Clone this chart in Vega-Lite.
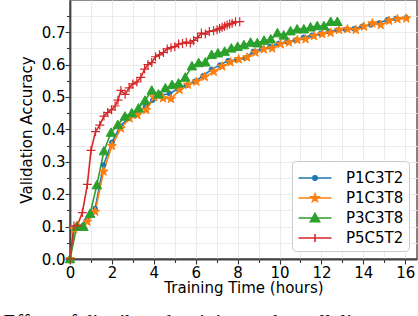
{
  "$schema": "https://vega.github.io/schema/vega-lite/v6.json",
  "width": 347,
  "height": 259,
  "autosize": {"type": "none"},
  "padding": {"left": 70, "top": 0, "right": 1, "bottom": 57},
  "config": {
    "view": {"stroke": "#666", "strokeWidth": 1.6},
    "font": "DejaVu Sans",
    "axis": {
      "gridColor": "#ebebeb", "gridWidth": 1, "tickColor": "#333", "tickWidth": 1.1,
      "domainColor": "#444", "domainWidth": 1.8,
      "labelFont": "DejaVu Sans", "labelFontSize": 15, "labelColor": "black",
      "titleFont": "DejaVu Sans", "titleFontSize": 15, "titleFontWeight": "normal", "titleColor": "black"
    }
  },
  "title": {
    "text": "Effect of distributed training and parallelism",
    "orient": "bottom", "anchor": "start", "frame": "bounds",
    "font": "Liberation Serif", "fontSize": 21, "fontWeight": "normal", "color": "black",
    "offset": 15, "dx": -16, "dy": 2
  },
  "data": {"values": [
    {"s":"P1C3T2","h":0,"a":0},{"s":"P1C3T2","h":0.2,"a":0.095},{"s":"P1C3T2","h":0.42,"a":0.1},{"s":"P1C3T2","h":0.8,"a":0.12},{"s":"P1C3T2","h":1.2,"a":0.156},{"s":"P1C3T2","h":1.6,"a":0.29},{"s":"P1C3T2","h":2.0,"a":0.36},{"s":"P1C3T2","h":2.4,"a":0.41},{"s":"P1C3T2","h":2.8,"a":0.435},{"s":"P1C3T2","h":3.2,"a":0.45},{"s":"P1C3T2","h":3.6,"a":0.47},{"s":"P1C3T2","h":3.95,"a":0.49},{"s":"P1C3T2","h":4.35,"a":0.505},{"s":"P1C3T2","h":4.75,"a":0.51},{"s":"P1C3T2","h":5.15,"a":0.525},{"s":"P1C3T2","h":5.55,"a":0.535},{"s":"P1C3T2","h":5.95,"a":0.548},{"s":"P1C3T2","h":6.35,"a":0.565},{"s":"P1C3T2","h":6.75,"a":0.585},{"s":"P1C3T2","h":7.15,"a":0.598},{"s":"P1C3T2","h":7.55,"a":0.612},{"s":"P1C3T2","h":7.95,"a":0.614},{"s":"P1C3T2","h":8.35,"a":0.62},{"s":"P1C3T2","h":8.75,"a":0.64},{"s":"P1C3T2","h":9.15,"a":0.648},{"s":"P1C3T2","h":9.55,"a":0.655},{"s":"P1C3T2","h":9.95,"a":0.665},{"s":"P1C3T2","h":10.35,"a":0.67},{"s":"P1C3T2","h":10.75,"a":0.675},{"s":"P1C3T2","h":11.15,"a":0.684},{"s":"P1C3T2","h":11.55,"a":0.69},{"s":"P1C3T2","h":11.95,"a":0.695},{"s":"P1C3T2","h":12.35,"a":0.702},{"s":"P1C3T2","h":12.75,"a":0.706},{"s":"P1C3T2","h":13.15,"a":0.708},{"s":"P1C3T2","h":13.55,"a":0.71},{"s":"P1C3T2","h":13.95,"a":0.718},{"s":"P1C3T2","h":14.35,"a":0.722},{"s":"P1C3T2","h":14.75,"a":0.728},{"s":"P1C3T2","h":15.15,"a":0.738},{"s":"P1C3T2","h":15.55,"a":0.742},{"s":"P1C3T2","h":16.05,"a":0.745},
    {"s":"P1C3T8","h":0,"a":0},{"s":"P1C3T8","h":0.2,"a":0.092},{"s":"P1C3T8","h":0.4,"a":0.1},{"s":"P1C3T8","h":0.83,"a":0.115},{"s":"P1C3T8","h":1.2,"a":0.146},{"s":"P1C3T8","h":1.6,"a":0.27},{"s":"P1C3T8","h":2.0,"a":0.349},{"s":"P1C3T8","h":2.43,"a":0.403},{"s":"P1C3T8","h":2.84,"a":0.434},{"s":"P1C3T8","h":3.22,"a":0.444},{"s":"P1C3T8","h":3.64,"a":0.46},{"s":"P1C3T8","h":4.02,"a":0.499},{"s":"P1C3T8","h":4.44,"a":0.496},{"s":"P1C3T8","h":4.82,"a":0.494},{"s":"P1C3T8","h":5.23,"a":0.522},{"s":"P1C3T8","h":5.63,"a":0.538},{"s":"P1C3T8","h":6.03,"a":0.547},{"s":"P1C3T8","h":6.43,"a":0.562},{"s":"P1C3T8","h":6.86,"a":0.578},{"s":"P1C3T8","h":7.26,"a":0.594},{"s":"P1C3T8","h":7.66,"a":0.607},{"s":"P1C3T8","h":8.05,"a":0.616},{"s":"P1C3T8","h":8.45,"a":0.622},{"s":"P1C3T8","h":8.85,"a":0.637},{"s":"P1C3T8","h":9.25,"a":0.647},{"s":"P1C3T8","h":9.65,"a":0.65},{"s":"P1C3T8","h":10.05,"a":0.663},{"s":"P1C3T8","h":10.45,"a":0.668},{"s":"P1C3T8","h":10.85,"a":0.676},{"s":"P1C3T8","h":11.24,"a":0.678},{"s":"P1C3T8","h":11.64,"a":0.688},{"s":"P1C3T8","h":12.04,"a":0.694},{"s":"P1C3T8","h":12.44,"a":0.698},{"s":"P1C3T8","h":12.84,"a":0.707},{"s":"P1C3T8","h":13.24,"a":0.709},{"s":"P1C3T8","h":13.64,"a":0.707},{"s":"P1C3T8","h":14.03,"a":0.717},{"s":"P1C3T8","h":14.43,"a":0.727},{"s":"P1C3T8","h":14.83,"a":0.722},{"s":"P1C3T8","h":15.23,"a":0.735},{"s":"P1C3T8","h":15.63,"a":0.74},{"s":"P1C3T8","h":16.05,"a":0.742},
    {"s":"P3C3T8","h":0,"a":0},{"s":"P3C3T8","h":0.32,"a":0.1},{"s":"P3C3T8","h":0.64,"a":0.1},{"s":"P3C3T8","h":0.96,"a":0.14},{"s":"P3C3T8","h":1.28,"a":0.228},{"s":"P3C3T8","h":1.62,"a":0.333},{"s":"P3C3T8","h":1.96,"a":0.39},{"s":"P3C3T8","h":2.28,"a":0.414},{"s":"P3C3T8","h":2.62,"a":0.44},{"s":"P3C3T8","h":2.95,"a":0.45},{"s":"P3C3T8","h":3.27,"a":0.465},{"s":"P3C3T8","h":3.58,"a":0.489},{"s":"P3C3T8","h":3.9,"a":0.52},{"s":"P3C3T8","h":4.22,"a":0.508},{"s":"P3C3T8","h":4.55,"a":0.527},{"s":"P3C3T8","h":4.87,"a":0.537},{"s":"P3C3T8","h":5.18,"a":0.542},{"s":"P3C3T8","h":5.5,"a":0.56},{"s":"P3C3T8","h":5.82,"a":0.595},{"s":"P3C3T8","h":6.14,"a":0.605},{"s":"P3C3T8","h":6.46,"a":0.607},{"s":"P3C3T8","h":6.76,"a":0.63},{"s":"P3C3T8","h":7.06,"a":0.635},{"s":"P3C3T8","h":7.38,"a":0.64},{"s":"P3C3T8","h":7.7,"a":0.65},{"s":"P3C3T8","h":8.0,"a":0.655},{"s":"P3C3T8","h":8.3,"a":0.66},{"s":"P3C3T8","h":8.62,"a":0.668},{"s":"P3C3T8","h":8.94,"a":0.666},{"s":"P3C3T8","h":9.26,"a":0.674},{"s":"P3C3T8","h":9.58,"a":0.678},{"s":"P3C3T8","h":9.9,"a":0.697},{"s":"P3C3T8","h":10.2,"a":0.69},{"s":"P3C3T8","h":10.52,"a":0.703},{"s":"P3C3T8","h":10.84,"a":0.709},{"s":"P3C3T8","h":11.16,"a":0.709},{"s":"P3C3T8","h":11.48,"a":0.715},{"s":"P3C3T8","h":11.8,"a":0.719},{"s":"P3C3T8","h":12.12,"a":0.719},{"s":"P3C3T8","h":12.44,"a":0.732},{"s":"P3C3T8","h":12.76,"a":0.732},
    {"s":"P5C5T2","h":0,"a":0},{"s":"P5C5T2","h":0.19,"a":0.102},{"s":"P5C5T2","h":0.35,"a":0.103},{"s":"P5C5T2","h":0.59,"a":0.143},{"s":"P5C5T2","h":0.83,"a":0.23},{"s":"P5C5T2","h":1.0,"a":0.335},{"s":"P5C5T2","h":1.22,"a":0.393},{"s":"P5C5T2","h":1.42,"a":0.413},{"s":"P5C5T2","h":1.62,"a":0.441},{"s":"P5C5T2","h":1.8,"a":0.452},{"s":"P5C5T2","h":1.98,"a":0.46},{"s":"P5C5T2","h":2.15,"a":0.472},{"s":"P5C5T2","h":2.29,"a":0.49},{"s":"P5C5T2","h":2.43,"a":0.52},{"s":"P5C5T2","h":2.63,"a":0.508},{"s":"P5C5T2","h":2.82,"a":0.528},{"s":"P5C5T2","h":3.0,"a":0.54},{"s":"P5C5T2","h":3.19,"a":0.546},{"s":"P5C5T2","h":3.38,"a":0.56},{"s":"P5C5T2","h":3.56,"a":0.586},{"s":"P5C5T2","h":3.72,"a":0.6},{"s":"P5C5T2","h":3.9,"a":0.606},{"s":"P5C5T2","h":4.08,"a":0.624},{"s":"P5C5T2","h":4.27,"a":0.63},{"s":"P5C5T2","h":4.46,"a":0.637},{"s":"P5C5T2","h":4.64,"a":0.648},{"s":"P5C5T2","h":4.82,"a":0.652},{"s":"P5C5T2","h":5.0,"a":0.655},{"s":"P5C5T2","h":5.18,"a":0.663},{"s":"P5C5T2","h":5.37,"a":0.665},{"s":"P5C5T2","h":5.55,"a":0.669},{"s":"P5C5T2","h":5.74,"a":0.666},{"s":"P5C5T2","h":5.9,"a":0.674},{"s":"P5C5T2","h":6.09,"a":0.683},{"s":"P5C5T2","h":6.27,"a":0.697},{"s":"P5C5T2","h":6.46,"a":0.694},{"s":"P5C5T2","h":6.65,"a":0.702},{"s":"P5C5T2","h":6.85,"a":0.704},{"s":"P5C5T2","h":7.02,"a":0.707},{"s":"P5C5T2","h":7.14,"a":0.711},{"s":"P5C5T2","h":7.26,"a":0.715},{"s":"P5C5T2","h":7.38,"a":0.718},{"s":"P5C5T2","h":7.5,"a":0.722},{"s":"P5C5T2","h":7.62,"a":0.725},{"s":"P5C5T2","h":7.74,"a":0.727},{"s":"P5C5T2","h":7.9,"a":0.732},{"s":"P5C5T2","h":8.1,"a":0.732}
  ]},
  "encoding": {
    "x": {"field": "h", "type": "quantitative", "title": "Training Time (hours)",
      "scale": {"domain": [0, 16.56], "nice": false, "zero": false},
      "axis": {"values": [0,1,2,3,4,5,6,7,8,9,10,11,12,13,14,15,16], "format": "d",
        "labelExpr": "datum.value % 2 === 0 ? datum.label : ''",
        "tickSize": {"condition": {"test": "datum.value % 2 === 0", "value": 5}, "value": 3.5},
        "labelPadding": 1, "titlePadding": 0, "labelFlush": false, "labelOverlap": false}},
    "y": {"field": "a", "type": "quantitative", "title": "Validation Accuracy",
      "scale": {"domain": [0, 0.799], "nice": false},
      "axis": {"values": [0,0.05,0.1,0.15,0.2,0.25,0.3,0.35,0.4,0.45,0.5,0.55,0.6,0.65,0.7,0.75],
        "labelExpr": "round(datum.value*100) % 10 === 0 ? format(datum.value, '.1f') : ''",
        "tickSize": {"condition": {"test": "round(datum.value*100) % 10 === 0", "value": 5}, "value": 3.5},
        "labelPadding": 0, "titlePadding": 7, "labelFlush": false, "labelOverlap": false}}
  },
  "layer": [
    {
      "mark": {"type": "line", "strokeWidth": 1.6},
      "encoding": {
        "color": {"field": "s", "type": "nominal",
          "scale": {"domain": ["P1C3T2","P1C3T8","P3C3T8","P5C5T2"], "range": ["#1f77b4","#ff7f0e","#2ca02c","#d62728"]},
          "legend": {"title": null, "orient": "bottom-right", "offset": 8, "padding": 5,
            "labelFontSize": 15, "labelFont": "DejaVu Sans", "labelColor": "black", "labelOffset": 19,
            "symbolSize": 484, "symbolOffset": 6, "rowPadding": 0,
            "strokeColor": "#cccccc", "fillColor": "white", "cornerRadius": 4,
            "symbolType": "M-1.5,0H1.5",
            "encode": {"symbols": {"update": {
              "shape": {"signal": "datum.value === 'P1C3T2' ? 'M-1.5,0H1.5M-0.2,0A0.2,0.2 0 1,0 0.2,0A0.2,0.2 0 1,0 -0.2,0Z' : datum.value === 'P1C3T8' ? 'M-1.5,0H1.5M0,-0.36L0.085,-0.117L0.342,-0.111L0.137,0.045L0.212,0.291L0,0.144L-0.212,0.291L-0.137,0.045L-0.342,-0.111L-0.085,-0.117Z' : datum.value === 'P3C3T8' ? 'M-1.5,0H1.5M0,-0.42L0.42,0.33L-0.42,0.33Z' : 'M-1.5,0H1.5M0,-0.37V0.37'"},
              "fill": {"scale": "color", "field": "value"},
              "stroke": {"scale": "color", "field": "value"},
              "strokeWidth": {"value": 1.6},
              "opacity": {"value": 1}
            }}}}
        }
      }
    },
    {
      "transform": [{"filter": "datum.s === 'P1C3T2'"}],
      "mark": {"type": "point", "filled": true, "opacity": 1, "shape": "circle", "size": 22, "color": "#1f77b4", "stroke": "#1f77b4", "strokeWidth": 1}
    },
    {
      "transform": [{"filter": "datum.s === 'P1C3T8'"}],
      "mark": {"type": "point", "filled": true, "opacity": 1, "size": 90, "color": "#ff7f0e", "stroke": "#ff7f0e", "strokeWidth": 1,
        "shape": "M0,-1L0.235,-0.324L0.951,-0.309L0.38,0.124L0.588,0.809L0,0.4L-0.588,0.809L-0.38,0.124L-0.951,-0.309L-0.235,-0.324Z"}
    },
    {
      "transform": [{"filter": "datum.s === 'P3C3T8'"}],
      "mark": {"type": "point", "filled": true, "opacity": 1, "size": 90, "color": "#2ca02c", "stroke": "#2ca02c", "strokeWidth": 1,
        "shape": "M0,-1L1,0.8L-1,0.8Z"}
    },
    {
      "transform": [{"filter": "datum.s === 'P5C5T2'"}],
      "mark": {"type": "point", "filled": false, "opacity": 1, "size": 80, "color": "#d62728", "strokeWidth": 1.2,
        "shape": "M-1,0H1M0,-1V1"}
    }
  ]
}
